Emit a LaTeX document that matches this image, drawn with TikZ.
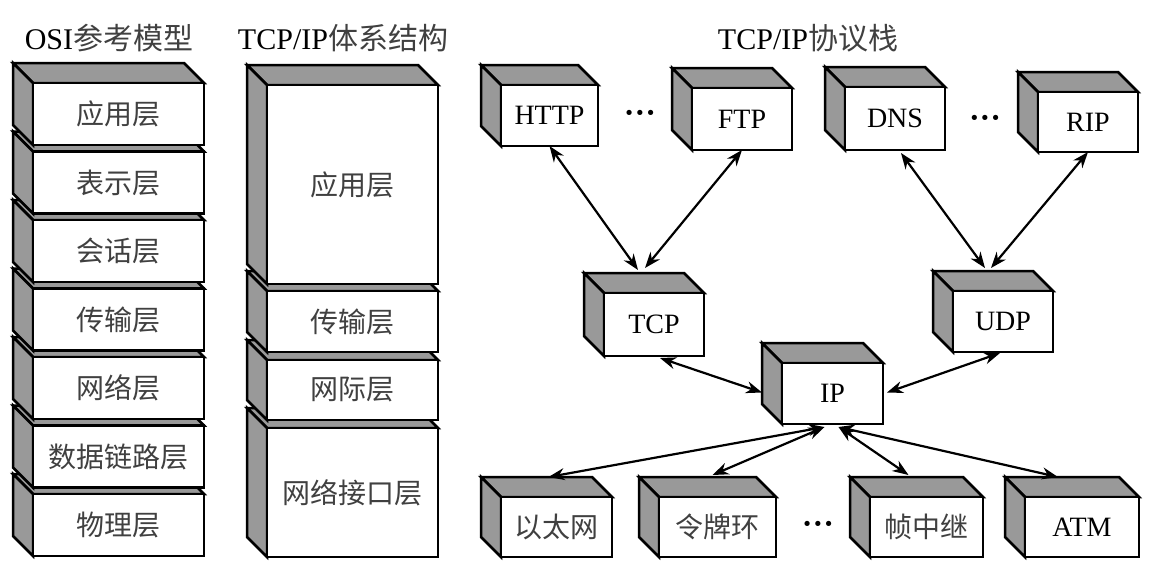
\documentclass[tikz,border=0pt]{standalone}
\usepackage{fontspec}
\setmainfont{Liberation Serif}
\newfontfamily\cjk{Noto Sans CJK SC}
\usetikzlibrary{arrows.meta,calc}
\tikzset{
  face/.style={fill=black!40, draw=black, line width=2.5pt},
  front/.style={fill=white, draw=black, line width=2.5pt, inner sep=0pt, outer sep=0pt,
                anchor=north west, font=\fontsize{28}{30}\selectfont},
  link/.style={line width=2.2pt, {Stealth[length=16pt,width=12pt]}-{Stealth[length=16pt,width=12pt]}},
  title/.style={font=\fontsize{30}{34}\selectfont},
  dots/.style={font=\bfseries\fontsize{32}{34}\selectfont},
}
\newcommand\zh[1]{{\cjk\color{black!75}#1}}
\newcommand\threedbox[6]{%
  \filldraw[face] (#2,#3) -- (#2-20,#3-20) -- (#4-20,#3-20) -- (#4,#3) -- cycle;
  \filldraw[face] (#2,#3) -- (#2-20,#3-20) -- (#2-20,#5-20) -- (#2,#5) -- cycle;
  \node[front, minimum width={(#4-#2)*1pt}, minimum height={(#5-#3)*1pt}] (#1) at (#2,#3) {#6};
}
\begin{document}
\begin{tikzpicture}[x=1pt,y=-1pt]
\useasboundingbox (0,0) rectangle (1152,566);

% titles
\node[title] (t1) at (109,38) {OSI\zh{参考模型}};
\node[title] (t2) at (343,38) {TCP/IP\zh{体系结构}};
\node[title] (t3) at (808,38) {TCP/IP\zh{协议栈}};

% OSI column (bottom first)
\threedbox{osi7}{33}{494}{204}{556}{\zh{物理层}}
\threedbox{osi6}{33}{425.5}{204}{487.5}{\zh{数据链路层}}
\threedbox{osi5}{33}{357}{204}{419}{\zh{网络层}}
\threedbox{osi4}{33}{288.5}{204}{350.5}{\zh{传输层}}
\threedbox{osi3}{33}{220}{204}{282}{\zh{会话层}}
\threedbox{osi2}{33}{151.5}{204}{213.5}{\zh{表示层}}
\threedbox{osi1}{33}{83}{204}{145}{\zh{应用层}}

% TCP/IP architecture column
\threedbox{arch4}{267}{428}{438}{557}{\zh{网络接口层}}
\threedbox{arch3}{267}{360}{438}{420}{\zh{网际层}}
\threedbox{arch2}{267}{291}{438}{352}{\zh{传输层}}
\threedbox{arch1}{267}{85}{438}{284}{\zh{应用层}}

% protocol stack
\threedbox{http}{501}{85}{598}{146}{HTTP}
\threedbox{ftp}{692}{88}{792}{150}{FTP}
\threedbox{dns}{845}{87}{945}{150}{DNS}
\threedbox{rip}{1038}{92}{1138}{152}{RIP}
\threedbox{tcp}{604}{293}{704}{356}{TCP}
\threedbox{udp}{953}{291}{1053}{352}{UDP}
\threedbox{ip}{782}{363}{883}{424}{IP}
\threedbox{eth}{501}{497}{612}{557}{\zh{以太网}}
\threedbox{token}{659}{497}{776}{557}{\zh{令牌环}}
\threedbox{fr}{870}{497}{983}{557}{\zh{帧中继}}
\threedbox{atm}{1025}{497}{1139}{557}{ATM}

\node[dots] (d1) at (640,117) {···};
\node[dots] (d2) at (985,122) {···};
\node[dots] (d3) at (818,528) {···};

% connectors
\draw[link] (http.south) -- ($(tcp.north)+(-16,-23)$);
\draw[link] (ftp.south) -- ($(tcp.north)+(-9,-25)$);
\draw[link] ($(dns.south)+(6,3)$) -- ($(udp.north)+(-18,-23)$);
\draw[link] (rip.south) -- ($(udp.north)+(-12,-23)$);
\draw[link] ($(tcp.south)+(6,2)$) -- ($(ip.west)+(-20,-1)$);
\draw[link] ($(udp.south)+(-3,1)$) -- ($(ip.east)+(4,-1)$);
\draw[link] ($(ip.south)+(-8,3)$) -- ($(eth.north)+(-8,-20)$);
\draw[link] ($(ip.south)+(-8,3)$) -- ($(token.north)+(-5,-22)$);
\draw[link] ($(ip.south)+(6,3)$) -- ($(fr.north)+(-18,-22)$);
\draw[link] ($(ip.south)+(6,3)$) -- ($(atm.north)+(-24,-20)$);
\end{tikzpicture}
\end{document}
